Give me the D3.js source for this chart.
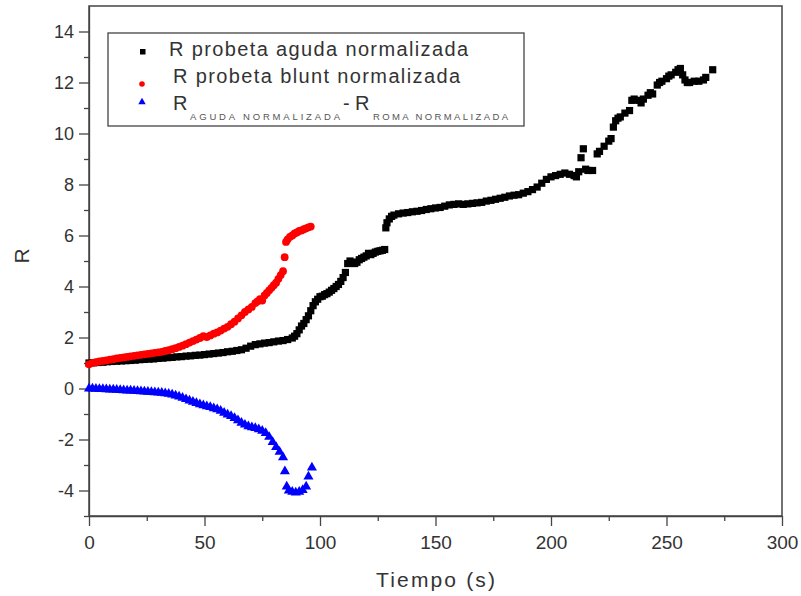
<!DOCTYPE html>
<html>
<head>
<meta charset="utf-8">
<script src="https://cdn.jsdelivr.net/npm/d3@7"></script>
<style>
    body { margin: 0; background: #fff; }
    svg { display: block; font-family: "Liberation Sans", Arial, sans-serif; }
</style>
</head>
<body>
<div id="chart"></div>
<script>
// Series: [tiempo (s), R]
const agudaData = [
    [0, 1.00], [2, 1.01], [4, 1.02], [6, 1.03], [8, 1.05], [10, 1.06], [12, 1.07], [14, 1.08],
    [16, 1.09], [18, 1.10], [20, 1.11], [22, 1.13], [24, 1.14], [26, 1.15], [28, 1.16], [30, 1.18],
    [32, 1.19], [34, 1.21], [36, 1.22], [38, 1.24], [40, 1.25], [42, 1.27], [44, 1.28], [46, 1.30],
    [48, 1.31], [50, 1.33], [52, 1.35], [54, 1.37], [56, 1.39], [58, 1.41], [60, 1.44], [62, 1.46],
    [64, 1.49], [66, 1.52], [68, 1.58], [70, 1.66], [72, 1.72], [74, 1.75], [76, 1.78], [78, 1.80],
    [80, 1.83], [82, 1.86], [84, 1.88], [86, 1.92], [88, 1.98], [89, 2.05], [90, 2.15], [91, 2.30],
    [92, 2.45], [93, 2.55], [94, 2.70], [95, 2.85], [96, 3.05], [97, 3.25], [98, 3.40], [99, 3.50],
    [100, 3.60], [101, 3.62], [102, 3.68], [103, 3.72], [104, 3.78], [105, 3.85], [106, 3.92],
    [107, 4.00], [108, 4.08], [109, 4.20], [110, 4.35], [111, 4.55], [112, 4.90], [113, 5.00],
    [114, 4.95], [115, 4.90], [116, 4.95], [117, 5.05], [118, 5.10], [119, 5.15], [120, 5.20],
    [121, 5.30], [122, 5.25], [123, 5.30], [124, 5.35], [125, 5.38], [126, 5.40], [127, 5.42],
    [128, 5.45], [128.5, 6.30], [129, 6.50], [130, 6.65], [131, 6.75], [132, 6.80], [134, 6.85],
    [136, 6.88], [138, 6.90], [140, 6.93], [142, 6.95], [144, 6.98], [146, 7.02], [148, 7.05],
    [150, 7.08], [152, 7.10], [154, 7.15], [156, 7.20], [158, 7.22], [160, 7.24], [162, 7.22],
    [164, 7.24], [166, 7.26], [168, 7.28], [170, 7.30], [172, 7.35], [174, 7.38], [176, 7.42],
    [178, 7.46], [180, 7.50], [182, 7.55], [184, 7.58], [186, 7.60], [188, 7.66], [190, 7.72],
    [192, 7.80], [194, 7.90], [196, 8.05], [198, 8.20], [200, 8.30], [202, 8.35], [204, 8.40],
    [206, 8.45], [208, 8.40], [210, 8.35], [211, 8.30], [212, 8.50], [213, 9.05], [214, 9.40],
    [215, 8.60], [216, 8.55], [218, 8.55], [220, 9.20], [221, 9.30], [223, 9.50], [225, 9.70],
    [226, 9.80], [227, 10.25], [228, 10.50], [229, 10.60], [230, 10.65], [232, 10.80], [234, 10.90],
    [235, 11.30], [236, 11.35], [238, 11.30], [239, 11.20], [240, 11.35], [242, 11.50], [243, 11.60],
    [244, 11.55], [246, 11.90], [247, 12.00], [248, 12.05], [250, 12.15], [251, 12.25], [252, 12.30],
    [254, 12.40], [255, 12.50], [256, 12.55], [257, 12.30], [258, 12.10], [259, 12.00], [260, 12.00],
    [262, 12.05], [264, 12.05], [266, 12.10], [267, 12.20], [270, 12.50]
];

const bluntData = [
    [0, 0.95], [1.5, 1.00], [3, 1.03], [4.5, 1.06], [6, 1.08], [7.5, 1.10], [9, 1.13], [10.5, 1.15],
    [12, 1.18], [13.5, 1.20], [15, 1.22], [16.5, 1.24], [18, 1.26], [19.5, 1.28], [21, 1.30],
    [22.5, 1.32], [24, 1.34], [25.5, 1.36], [27, 1.38], [28.5, 1.40], [30, 1.42], [31.5, 1.44],
    [33, 1.47], [34.5, 1.50], [36, 1.54], [37.5, 1.58], [39, 1.63], [40.5, 1.68], [42, 1.74],
    [43.5, 1.80], [45, 1.86], [46.5, 1.92], [48, 1.98], [49.5, 2.05], [51, 2.02], [52.5, 2.08],
    [54, 2.15], [55.5, 2.20], [57, 2.27], [58.5, 2.35], [60, 2.42], [61.5, 2.52], [63, 2.62],
    [64.5, 2.75], [66, 2.87], [67.5, 3.00], [69, 3.10], [70.5, 3.20], [72, 3.35], [73, 3.42],
    [74, 3.50], [75, 3.45], [76, 3.65], [77, 3.75], [78, 3.85], [79, 3.95], [80, 4.05], [81, 4.15],
    [82, 4.30], [83, 4.45], [84, 4.60], [84.7, 5.15], [85.3, 5.75], [86, 5.85], [87, 5.95],
    [88, 6.00], [89, 6.08], [90, 6.12], [91, 6.18], [92, 6.20], [93, 6.25], [94, 6.28], [95, 6.32],
    [96, 6.35]
];

const diffData = [
    [0, 0.00], [1.5, 0.00], [3, -0.01], [4.5, -0.02], [6, -0.02], [7.5, -0.03], [9, -0.04],
    [10.5, -0.04], [12, -0.05], [13.5, -0.06], [15, -0.07], [16.5, -0.08], [18, -0.08], [19.5, -0.09],
    [21, -0.10], [22.5, -0.11], [24, -0.12], [25.5, -0.13], [27, -0.14], [28.5, -0.15], [30, -0.16],
    [31.5, -0.17], [33, -0.19], [34.5, -0.21], [36, -0.24], [37.5, -0.28], [39, -0.32], [40.5, -0.37],
    [42, -0.42], [43.5, -0.47], [45, -0.52], [46.5, -0.57], [48, -0.62], [49.5, -0.66], [51, -0.70],
    [52.5, -0.73], [54, -0.78], [55.5, -0.82], [57, -0.88], [58.5, -0.95], [60, -1.02], [61.5, -1.08],
    [63, -1.16], [64.5, -1.25], [66, -1.35], [67.5, -1.42], [69, -1.48], [70.5, -1.52], [72, -1.55],
    [73.5, -1.60], [75, -1.66], [76.5, -1.75], [78, -1.90], [79.5, -2.10], [81, -2.30], [82.5, -2.48],
    [84, -2.70], [84.8, -3.25], [85.6, -3.85], [86.5, -4.00], [88, -4.05], [89.5, -4.08], [91, -4.05],
    [92.5, -3.98], [94, -3.85], [95, -3.45], [96.5, -3.10]
];

const xTicks = [0, 50, 100, 150, 200, 250, 300];
const xMinorTicks = [25, 75, 125, 175, 225, 275];
const yTicks = [-4, -2, 0, 2, 4, 6, 8, 10, 12, 14];
const yMinorTicks = [-5, -3, -1, 1, 3, 5, 7, 9, 11, 13];

// Set up SVG container
const width = 801;
const height = 596;
const margin = { top: 6, right: 19, bottom: 80, left: 89 };

const svg = d3.select('#chart')
    .append('svg')
    .attr('width', width)
    .attr('height', height);

const x = d3.scaleLinear().domain([0, 300]).range([margin.left, width - margin.right]);
const y = d3.scaleLinear().domain([-5, 15]).range([height - margin.bottom, margin.top]);

const axisColor = '#444';
const textColor = '#333';

// Axes with major and minor ticks (plain hyphen for negatives, as in the original)
const xAxis = svg.append('g')
    .attr('transform', `translate(0,${y(-5)})`)
    .call(d3.axisBottom(x).tickValues(xTicks).tickSize(10).tickPadding(9.5)
        .tickSizeOuter(0).tickFormat(d => String(d)));
svg.append('g')
    .attr('transform', `translate(0,${y(-5)})`)
    .call(d3.axisBottom(x).tickValues(xMinorTicks).tickSize(5).tickFormat('').tickSizeOuter(0))
    .select('.domain').remove();

const yAxis = svg.append('g')
    .attr('transform', `translate(${x(0)},0)`)
    .call(d3.axisLeft(y).tickValues(yTicks).tickSize(10).tickPadding(5)
        .tickSizeOuter(0).tickFormat(d => String(d)));
svg.append('g')
    .attr('transform', `translate(${x(0)},0)`)
    .call(d3.axisLeft(y).tickValues(yMinorTicks).tickSize(5).tickFormat('').tickSizeOuter(0))
    .select('.domain').remove();

svg.selectAll('.tick line, .domain')
    .attr('stroke', axisColor)
    .attr('stroke-width', 1.3);

xAxis.selectAll('text')
    .attr('font-size', 19)
    .attr('fill', textColor);
yAxis.selectAll('text')
    .attr('font-size', 18)
    .attr('fill', textColor);

// Frame round the plot
svg.append('rect')
    .attr('x', x(0))
    .attr('y', y(15))
    .attr('width', x(300) - x(0))
    .attr('height', y(-5) - y(15))
    .attr('fill', 'none')
    .attr('stroke', axisColor)
    .attr('stroke-width', 1.5);

// Axis titles
svg.append('text')
    .attr('x', 376)
    .attr('y', 587)
    .attr('font-size', 21)
    .attr('textLength', 119)
    .attr('lengthAdjust', 'spacing')
    .attr('fill', textColor)
    .text('Tiempo (s)');

svg.append('text')
    .attr('transform', `translate(29,${y(5.2)}) rotate(-90)`)
    .attr('text-anchor', 'middle')
    .attr('font-size', 21)
    .attr('fill', textColor)
    .text('R');

// Markers
const plot = svg.append('g');

plot.selectAll('.aguda')
    .data(agudaData)
    .enter()
    .append('rect')
    .attr('class', 'aguda')
    .attr('x', d => x(d[0]) - 3.6)
    .attr('y', d => y(d[1]) - 3.6)
    .attr('width', 7.2)
    .attr('height', 7.2)
    .attr('fill', '#000');

plot.selectAll('.blunt')
    .data(bluntData)
    .enter()
    .append('circle')
    .attr('class', 'blunt')
    .attr('cx', d => x(d[0]))
    .attr('cy', d => y(d[1]))
    .attr('r', 3.9)
    .attr('fill', '#f00');

const triangle = d3.symbol().type(d3.symbolTriangle).size(44);
plot.selectAll('.diff')
    .data(diffData)
    .enter()
    .append('path')
    .attr('class', 'diff')
    .attr('d', triangle)
    .attr('transform', d => `translate(${x(d[0])},${y(d[1])})`)
    .attr('fill', '#00f');

// Legend
const legend = svg.append('g');
legend.append('rect')
    .attr('x', 108)
    .attr('y', 33)
    .attr('width', 416)
    .attr('height', 93)
    .attr('fill', '#fff')
    .attr('stroke', axisColor)
    .attr('stroke-width', 1.3);

legend.append('rect')
    .attr('x', 140)
    .attr('y', 49)
    .attr('width', 5.5)
    .attr('height', 5.5)
    .attr('fill', '#000');
legend.append('text')
    .attr('x', 169)
    .attr('y', 56)
    .attr('font-size', 20)
    .attr('textLength', 299)
    .attr('lengthAdjust', 'spacing')
    .attr('fill', textColor)
    .text('R probeta aguda normalizada');

legend.append('circle')
    .attr('cx', 142)
    .attr('cy', 84)
    .attr('r', 2.8)
    .attr('fill', '#f00');
legend.append('text')
    .attr('x', 173)
    .attr('y', 83)
    .attr('font-size', 20)
    .attr('textLength', 287)
    .attr('lengthAdjust', 'spacing')
    .attr('fill', textColor)
    .text('R probeta blunt normalizada');

legend.append('path')
    .attr('d', d3.symbol().type(d3.symbolTriangle).size(24))
    .attr('transform', 'translate(142,102)')
    .attr('fill', '#00f');

// R_aguda - R_roma, subscripts as small spaced caps
const diffParts = [
    { text: 'R', x: 173, y: 110, size: 20, len: 14, fill: textColor },
    { text: 'AGUDA NORMALIZADA', x: 190, y: 120, size: 9.5, len: 150, fill: '#555' },
    { text: '-', x: 343, y: 110, size: 20, len: 6, fill: textColor },
    { text: 'R', x: 355, y: 110, size: 20, len: 14, fill: textColor },
    { text: 'ROMA NORMALIZADA', x: 373, y: 120, size: 9.5, len: 135, fill: '#555' }
];
legend.selectAll('.diff-label')
    .data(diffParts)
    .enter()
    .append('text')
    .attr('class', 'diff-label')
    .attr('x', d => d.x)
    .attr('y', d => d.y)
    .attr('font-size', d => d.size)
    .attr('textLength', d => d.len)
    .attr('lengthAdjust', 'spacing')
    .attr('fill', d => d.fill)
    .text(d => d.text);
</script>
</body>
</html>
